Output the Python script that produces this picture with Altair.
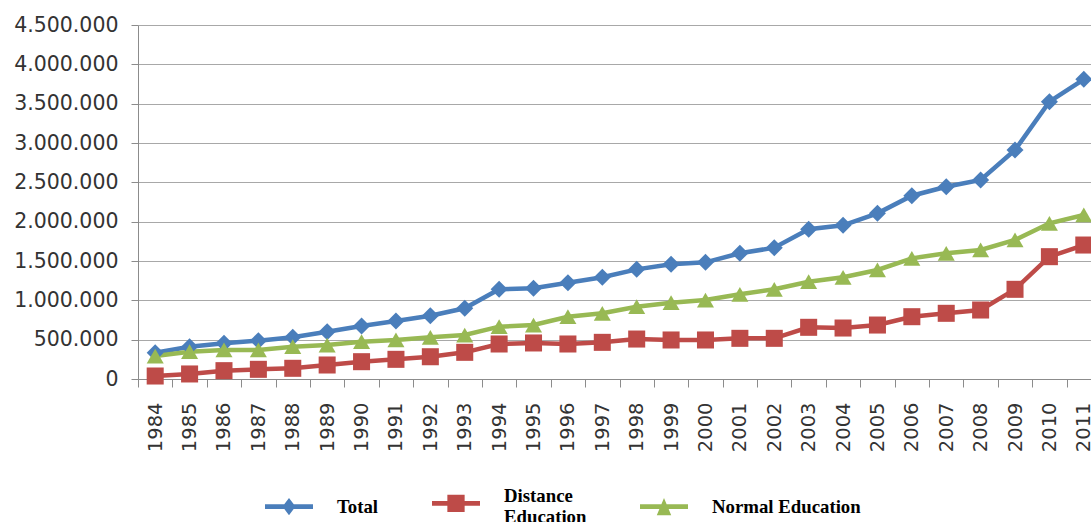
import altair as alt
import pandas as pd

# Enrolment by year
years = [str(y) for y in range(1984, 2012)]

total = [334000, 411000, 454000, 487000, 530000, 601000, 674000, 737000, 805000, 899000,
         1140000, 1153000, 1224000, 1293000, 1394000, 1458000, 1483000, 1598000, 1669000, 1903000,
         1954000, 2106000, 2330000, 2444000, 2530000, 2911000, 3525000, 3810000]

distance = [38000, 64000, 106000, 123000, 136000, 178000, 220000, 250000, 283000, 339000,
            445000, 458000, 445000, 466000, 508000, 496000, 496000, 517000, 517000, 657000,
            648000, 686000, 792000, 835000, 877000, 1140000, 1555000, 1703000]

normal = [292000, 347000, 369000, 369000, 411000, 432000, 474000, 496000, 530000, 559000,
          665000, 686000, 792000, 835000, 919000, 970000, 1004000, 1077000, 1140000, 1237000,
          1293000, 1386000, 1534000, 1598000, 1640000, 1767000, 1979000, 2085000]

series_names = ["Total", "Distance Education", "Normal Education"]
series_colors = ["#4a7ebb", "#be4b48", "#98b954"]
marker_shapes = ["diamond", "square", "triangle-up"]

# Legend keys: a short line segment with the series marker on it
# (the two-line label entry sits higher, so its key is nudged down)
legend_keys = [
    "M-1,-0.1H1V0.1H-1Z M0,-0.36L0.27,0L0,0.36L-0.27,0Z",
    "M-1,0.2H1V0.4H-1Z M-0.36,-0.06H0.36V0.66H-0.36Z",
    "M-1,-0.1H1V0.1H-1Z M0,-0.36L0.3,0.36L-0.3,0.36Z",
]

y_ticks = list(range(0, 4500001, 500000))

rows = []
for name, values in zip(series_names, [total, distance, normal]):
    for yr, v in zip(years, values):
        rows.append({"year": yr, "series": name, "value": v})
df = pd.DataFrame(rows)

color_scale = alt.Scale(domain=series_names, range=series_colors)

x_enc = alt.X(
    "year:O",
    title=None,
    scale=alt.Scale(type="band", paddingInner=0, paddingOuter=0),
    axis=alt.Axis(
        labelAngle=270,
        labelFont="DejaVu Sans",
        labelFontSize=19.5,
        labelColor="#333333",
        labelPadding=15,
        tickBand="extent",
        tickSize=8,
        tickColor="#8c8c8c",
        domainColor="#8c8c8c",
        grid=False,
    ),
)
y_enc = alt.Y(
    "value:Q",
    title=None,
    scale=alt.Scale(domain=[0, 4500000], nice=False),
    axis=alt.Axis(
        values=y_ticks,
        labelExpr="replace(format(datum.value, ','), /,/g, '.')",
        labelFont="DejaVu Sans",
        labelFontSize=20.5,
        labelColor="#333333",
        labelPadding=13,
        tickSize=7,
        tickColor="#8c8c8c",
        domainColor="#8c8c8c",
        gridColor="#a8a8a8",
        gridWidth=1.2,
    ),
)

base = alt.Chart(df).encode(x=x_enc, y=y_enc)

lines = base.mark_line(strokeWidth=4.5).encode(
    color=alt.Color("series:N", scale=color_scale, legend=None)
)

points = base.mark_point(filled=True, size=290, opacity=1).encode(
    color=alt.Color("series:N", scale=color_scale, legend=None),
    shape=alt.Shape("series:N", scale=alt.Scale(domain=series_names, range=marker_shapes), legend=None),
)

legend_props = dict(
    title=None,
    orient="none",
    legendX=127,
    legendY=447,
    direction="horizontal",
    padding=0,
    symbolSize=2304,
    symbolStrokeWidth=0,
    symbolOpacity=1,
    labelFont="Liberation Serif",
    labelFontWeight="bold",
    labelFontSize=18.8,
    labelColor="#000000",
    labelOffset=24,
    labelLimit=300,
    columnPadding=53,
    labelExpr="datum.label == 'Distance Education' ? ['Distance', 'Education'] : datum.label",
)

key = base.mark_point(filled=True).transform_filter("datum.value < 0").encode(
    color=alt.Color("series:N", scale=color_scale, legend=alt.Legend(**legend_props)),
    shape=alt.Shape("series:N", scale=alt.Scale(domain=series_names, range=legend_keys),
                    legend=alt.Legend(**legend_props)),
)

chart = (
    alt.layer(lines, points, key)
    .resolve_scale(color="independent", shape="independent")
    .properties(
        width=963,
        height=354,
        padding={"left": 138, "top": 25, "right": -10, "bottom": 143},
        autosize=alt.AutoSizeParams(type="none"),
        background="white",
    )
    .configure_view(stroke=None)
)

chart.save("out.html", embed_options={"renderer": "svg", "actions": False})
